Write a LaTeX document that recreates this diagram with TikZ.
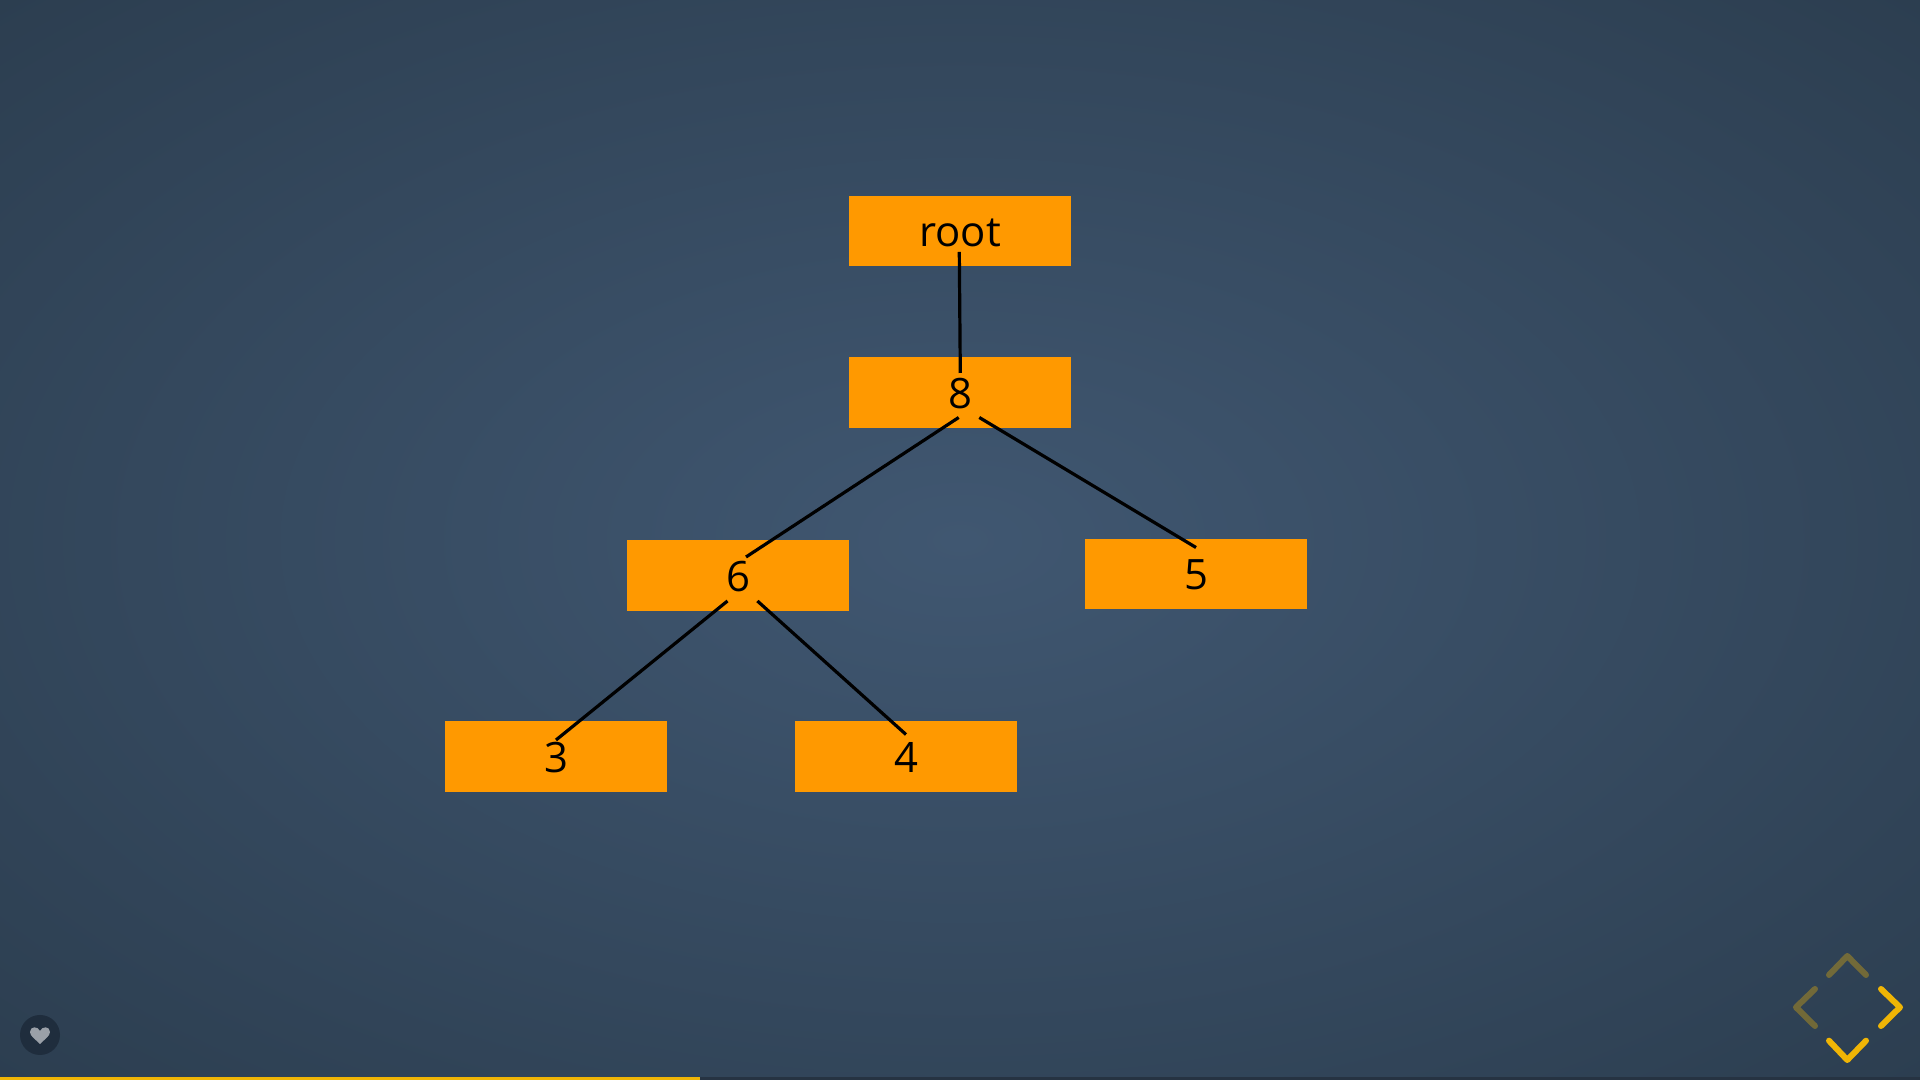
\documentclass[tikz,border=0pt]{standalone}
\usepackage{fontspec}
\setmainfont{Open Sans}
\definecolor{glowmid}{HTML}{405771}
\definecolor{glowedge}{HTML}{2C3E50}
\definecolor{boxorange}{HTML}{FF9900}
\definecolor{navyellow}{HTML}{F0B505}
\definecolor{btndark}{HTML}{1F2D3D}
\definecolor{barrest}{HTML}{263342}
\pgfdeclareradialshading{bgglow}{\pgfpoint{0bp}{0bp}}{color(0bp)=(glowmid); color(35.4bp)=(glowedge); color(45bp)=(glowedge)}
\tikzset{
  treebox/.style={fill=boxorange, text=black, minimum width=2.22cm, minimum height=0.705cm,
    inner sep=0pt, text height=0.32cm, text depth=0cm, font=\fontsize{11.9}{13}\selectfont},
  treeline/.style={black, line width=0.32mm},
  navchev/.style={navyellow, line width=0.6mm, line cap=round, line join=round}
}
\begin{document}
\begin{tikzpicture}[x=0.01cm, y=-0.01cm]
  \useasboundingbox (0,0) rectangle (1920,1080);
  % fondo
  \shade[shading=bgglow] (0,0) rectangle (1920,1080);
  % las cajas
  \node[treebox] (root)  at (960,231)   {root};
  \node[treebox] (eight) at (960,392.5) {8};
  \node[treebox] (six)   at (738,575.5) {6};
  \node[treebox] (five)  at (1196,574)  {5};
  \node[treebox] (three) at (556,756.5) {3};
  \node[treebox] (four)  at (906,756.5) {4};
  % las ramas
  \draw[treeline] ([shift={(-0.7,21)}]root.center) -- ([shift={(0.3,-19.5)}]eight.center);
  \draw[treeline] ([shift={(-1.3,25)}]eight.center) -- ([shift={(8,-18.5)}]six.center);
  \draw[treeline] ([shift={(19.3,25)}]eight.center) -- ([shift={(0,-26.5)}]five.center);
  \draw[treeline] ([shift={(-10.5,25.5)}]six.center) -- ([shift={(0,-16.5)}]three.center);
  \draw[treeline] ([shift={(19.4,25.5)}]six.center) -- ([shift={(0,-22)}]four.center);
  % flechas de navegacion
  \draw[navchev, opacity=0.35] (1829,975) -- (1847.3,956) -- (1866,975);
  \draw[navchev, opacity=0.35] (1815,989) -- (1796,1007.3) -- (1815,1026);
  \draw[navchev] (1881,989) -- (1900,1007.3) -- (1881,1026);
  \draw[navchev] (1829,1040.7) -- (1847.3,1060) -- (1866,1040.7);
  % corazon
  \fill[btndark] (40,1035) circle (20);
  \fill[white!55!btndark] (40,1044) .. controls (35,1039) and (30,1036) .. (30,1032)
    .. controls (30,1026) and (38,1026) .. (40,1031)
    .. controls (42,1026) and (50,1026) .. (50,1032)
    .. controls (50,1036) and (45,1039) .. (40,1044);
  % barra de progreso
  \fill[barrest] (700,1077) rectangle (1920,1080);
  \fill[navyellow] (0,1077) rectangle (700,1080);
\end{tikzpicture}
\end{document}
